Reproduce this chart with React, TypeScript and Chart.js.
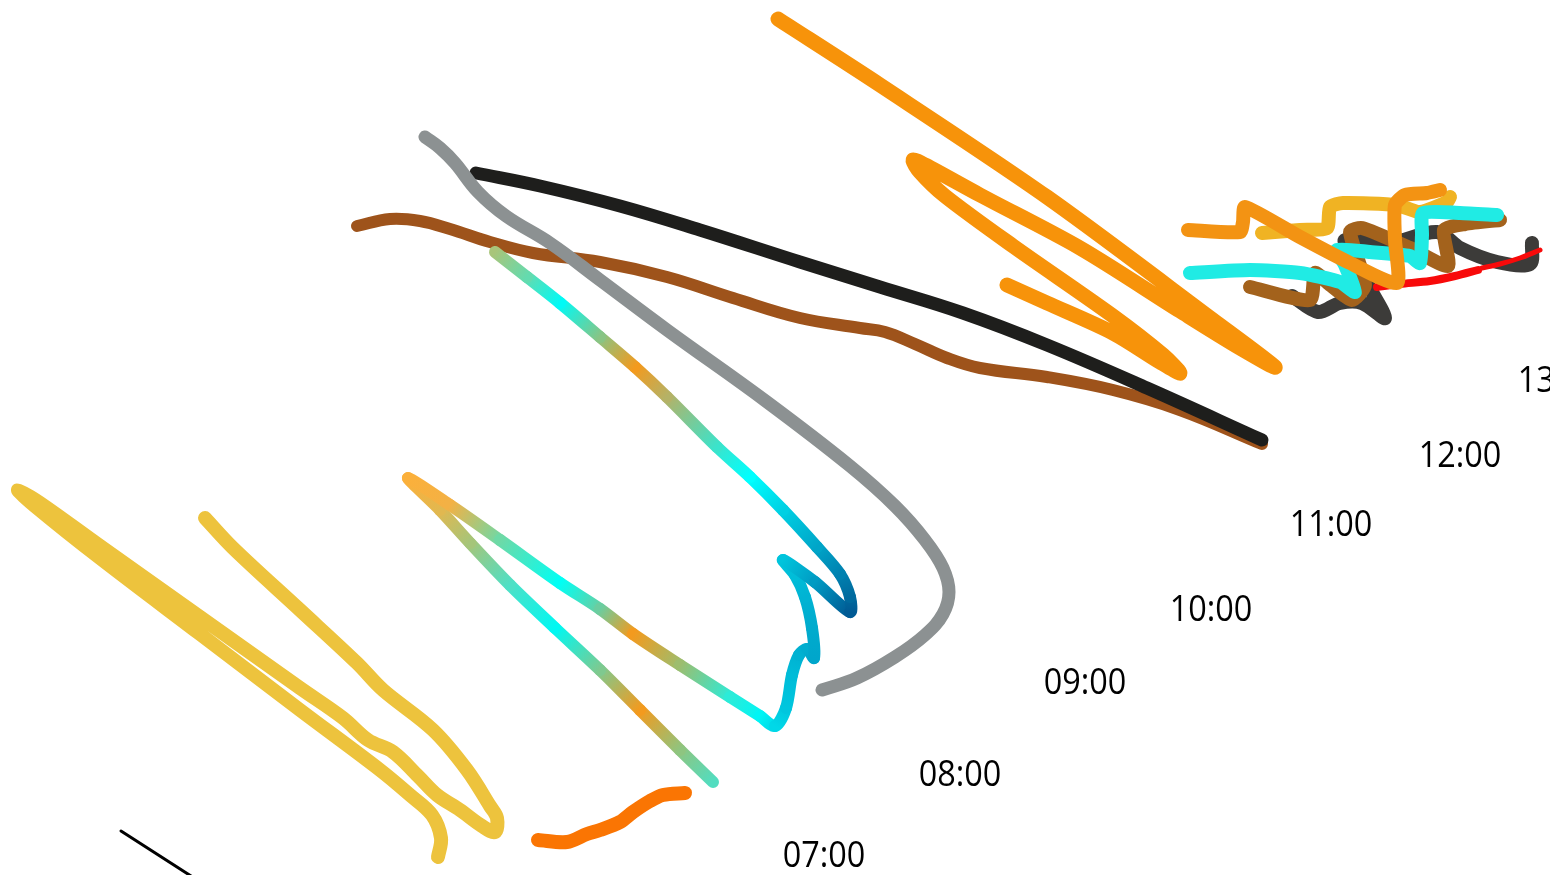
import React, { useEffect, useRef } from 'react';
import { Chart, registerables } from 'chart.js';
Chart.register(...registerables);

// Projected route traces (x, y in the view plane of the 3D scene)
const yellowPath = [[438,857],[441,838],[432,815],[410,795],[380,770],[300,710],[200,634],[100,558],[35,506],[18,490],[40,503],[100,546],[200,617],[300,688],[343,718],[368,740],[393,752],[418,776],[437,795],[460,810],[482,826],[495,832],[497,818],[490,806],[467,770],[433,730],[383,690],[357,663],[300,610],[233,548],[205,518]];
const orangeDashPath = [[538,840],[567,842],[587,834],[600,830],[620,822],[633,812],[650,801],[663,795],[685,793]];
const gradPath = [[713,782],[680,750],[640,710],[600,670],[555,628],[510,585],[470,543],[440,510],[408,478],[450,505],[500,540],[560,583],[600,609],[633,634],[680,665],[730,697],[760,716],[775,726],[786,708],[792,675],[799,655],[807,649],[814,658],[812,628],[805,597],[795,575],[783,560],[815,582],[850,612],[850,597],[840,574],[817,547],[783,510],[750,477],[717,447],[667,397],[635,367],[600,337],[560,303],[527,277],[495,252]];
const gradColors = ['#52DDC0','#8EC580','#F39A1E','#7FC98F','#00F8F2','#4EE0C6','#A5C57A','#E1B850','#FBB03B','#F3B145','#6ED9A6','#00FFF5','#6BCDA0','#F39A1E','#9DBD6E','#2CEBD8','#00F5F5','#00D8E8','#00C6DE','#00BCD8','#00B2D2','#00ADCF','#00A6CB','#00ABCD','#00B3D3','#00BDD8','#00C4DC','#009BC3','#005A94','#006A9E','#0081B0','#00A5C8','#00D0E3','#00FFFF','#3AE4CC','#B4B267','#F39A1E','#89C484','#00FAF6','#63DBAF','#A8C57A'];
const grayPath = [[425,137],[440,148],[455,163],[478,192],[506,216],[550,243],[600,280],[667,330],[767,402],[850,466],[895,506],[925,540],[943,568],[949,592],[943,614],[925,635],[895,657],[857,678],[822,690]];
const blackPath = [[476,173],[540,186],[620,206],[700,230],[800,262],[880,287],[963,313],[1047,345],[1147,388],[1262,440]];
const brownPath = [[357,226],[390,219],[420,221],[450,229],[490,242],[533,253],[600,262],[667,277],[733,298],[800,318],[860,328],[885,332],[915,344],[947,358],[980,368],[1047,377],[1113,390],[1180,410],[1262,444]];
const orangePath = [[778,19],[880,85],[1047,197],[1213,320],[1275,367],[1240,348],[1180,311],[1080,248],[980,195],[925,165],[913,160],[920,172],[945,196],[1013,246],[1113,316],[1163,355],[1180,373],[1160,362],[1113,333],[1047,303],[1007,285]];
const goldPath = [[1262,233],[1300,230],[1327,228],[1330,207],[1343,203],[1397,205],[1420,212],[1447,202],[1450,197]];
const orange2Path = [[1188,230],[1240,232],[1243,222],[1245,207],[1300,237],[1350,263],[1397,283],[1395,240],[1395,205],[1405,195],[1427,193],[1440,190]];
const cyanPath = [[1190,273],[1250,270],[1300,273],[1340,282],[1355,292],[1345,265],[1337,250],[1370,252],[1410,256],[1420,263],[1422,235],[1423,213],[1460,213],[1497,215]];
const brown2Path = [[1250,287],[1310,300],[1315,273],[1328,283],[1352,300],[1365,285],[1350,232],[1362,228],[1410,248],[1448,266],[1444,230],[1465,224],[1500,220]];
const darkPath = [[1292,296],[1318,312],[1340,303],[1362,303],[1385,318],[1368,285],[1352,252],[1345,240],[1390,243],[1437,232],[1460,248],[1497,262],[1530,264],[1532,243]];
const redThickPath = [[1377,287],[1400,284],[1430,281],[1455,276],[1478,270]];
const redThinPath = [[1482,268],[1500,264],[1520,258],[1540,250]];
const axisPath = [[121,831],[205,885]];

// Time axis ticks
const timeLabels = ['07:00','08:00','09:00','10:00','11:00','12:00','13:00'];
const timeX = [824,960,1085,1211,1331,1460,1559];
const timeY = [857,776,684,611,526,457,382];

export default function App() {
  const ref = useRef<HTMLCanvasElement>(null);
  useEffect(() => {
    document.body.style.margin = '0';
    const canvas = ref.current!;
    const c2d = canvas.getContext('2d')!;
    const toXY = (p: number[][]) => p.map(([x, y]) => ({ x, y }));
    const datasets: any[] = [];
    let ord = 100;
    const add = (path: number[][], color: any, width: number, tension = 0.4, extra: any = {}) => {
      datasets.push({
        data: toXY(path), showLine: true, pointRadius: 0, pointHoverRadius: 0,
        borderColor: color, borderWidth: width, tension,
        borderCapStyle: 'round', borderJoinStyle: 'round', fill: false,
        order: ord--, ...extra,
      });
    };
    add(axisPath, '#000000', 3, 0);
    add(yellowPath, '#EDC33D', 14, 0.35);
    add(orangeDashPath, '#FA7503', 14, 0.3);
    add(brownPath, '#9E531B', 12, 0.4);
    add(blackPath, '#1E1E1C', 13, 0.4);
    add(grayPath, '#8C9192', 13, 0.4);
    add(gradPath, '#00FFFF', 12, 0.3, {
      segment: {
        borderColor: (sc: any) => {
          const g: any = c2d.createLinearGradient(sc.p0.x, sc.p0.y, sc.p1.x, sc.p1.y);
          g.addColorStop(0, gradColors[sc.p0DataIndex]);
          g.addColorStop(1, gradColors[sc.p1DataIndex]);
          g.idx = sc.p0DataIndex;
          return g;
        },
      },
    });
    add(orangePath, '#F7930A', 15, 0.3);
    add(darkPath, '#3C3B39', 14, 0.3);
    add(redThickPath, '#F80A0A', 8, 0.3);
    add(redThinPath, '#F80A0A', 5, 0.3);
    add(brown2Path, '#A3621C', 14, 0.2);
    add(goldPath, '#F0B323', 14, 0.2);
    add(cyanPath, '#20EBE4', 14, 0.2);
    add(orange2Path, '#F39313', 14, 0.2);

    const labelPlugin = {
      id: 'timeLabels',
      afterDatasetsDraw(chart: any) {
        const { ctx, scales } = chart;
        ctx.save();
        ctx.font = '36px "Open Sans"';
        ctx.fillStyle = '#000000';
        ctx.textAlign = 'center';
        ctx.textBaseline = 'middle';
        timeLabels.forEach((t, i) => {
          const px = scales.x.getPixelForValue(timeX[i]);
          const py = scales.y.getPixelForValue(timeY[i]);
          ctx.save();
          ctx.translate(px, py);
          ctx.scale(0.9, 1);
          ctx.fillText(t, 0, 0);
          ctx.restore();
        });
        ctx.restore();
      },
    };

    const chart = new Chart(canvas, {
      type: 'scatter',
      data: { datasets },
      options: {
        animation: false,
        responsive: true,
        maintainAspectRatio: false,
        layout: { padding: 0 },
        scales: {
          x: { type: 'linear', min: 0, max: 1550, display: false },
          y: { type: 'linear', min: 0, max: 875, reverse: true, display: false },
        },
        plugins: { legend: { display: false }, tooltip: { enabled: false } },
        events: [],
      },
      plugins: [labelPlugin],
    } as any);
    return () => chart.destroy();
  }, []);
  return (
    <div style={{ position: 'fixed', left: 0, top: 0, width: 1550, height: 875, background: '#fff' }}>
      <canvas ref={ref} />
    </div>
  );
}
